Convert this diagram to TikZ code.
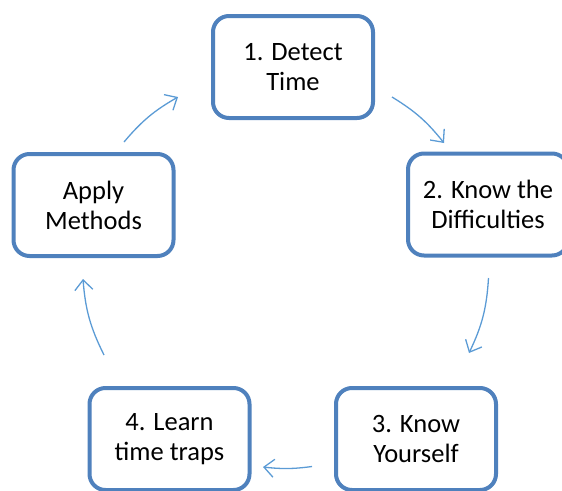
\documentclass[tikz,border=0pt]{standalone}
\usepackage{fontspec}
\setmainfont{Carlito}
\usetikzlibrary{arrows.meta}
\definecolor{boxblue}{RGB}{79,129,189}
\definecolor{arrblue}{RGB}{91,155,213}
\begin{document}
\begin{tikzpicture}[x=1pt,y=-1pt,
  stage/.style={draw=boxblue, line width=4pt, rounded corners=16pt,
    minimum width=160pt, minimum height=102pt, align=center,
    font=\fontsize{26.5}{30}\selectfont, fill=white, inner sep=0pt},
  cyc/.style={draw=arrblue, line width=1.3pt,
    -{Straight Barb[length=10pt,width=18pt]}}]
\useasboundingbox (0,0) rectangle (562,490);
\node[stage] (s1) at (293,67) {1. Detect\\Time};
\node[stage] (s2) at (488,204.5) {2. Know the\\Difficulties};
\node[stage] (s3) at (416,439) {3. Know\\Yourself};
\node[stage] (s4) at (169.5,439) {4. Learn\\time traps};
\node[stage] (s5) at (93.5,205) {Apply\\Methods};
\coordinate (a1s) at (392,97);
\coordinate (a1e) at (444,143);
\coordinate (a2s) at (488.5,278);
\coordinate (a2e) at (469,353);
\coordinate (a3s) at (312,466.5);
\coordinate (a3e) at (263,467);
\coordinate (a4s) at (104,355);
\coordinate (a4e) at (83,279);
\coordinate (a5s) at (124,142);
\coordinate (a5e) at (178,97);
\draw[cyc] (a1s) to[bend left=10] (a1e);
\draw[cyc] (a2s) to[bend left=11] (a2e);
\draw[cyc] (a3s) to[bend left=7] (a3e);
\draw[cyc] (a4s) to[bend left=11] (a4e);
\draw[cyc] (a5s) to[bend left=10] (a5e);
\end{tikzpicture}
\end{document}
